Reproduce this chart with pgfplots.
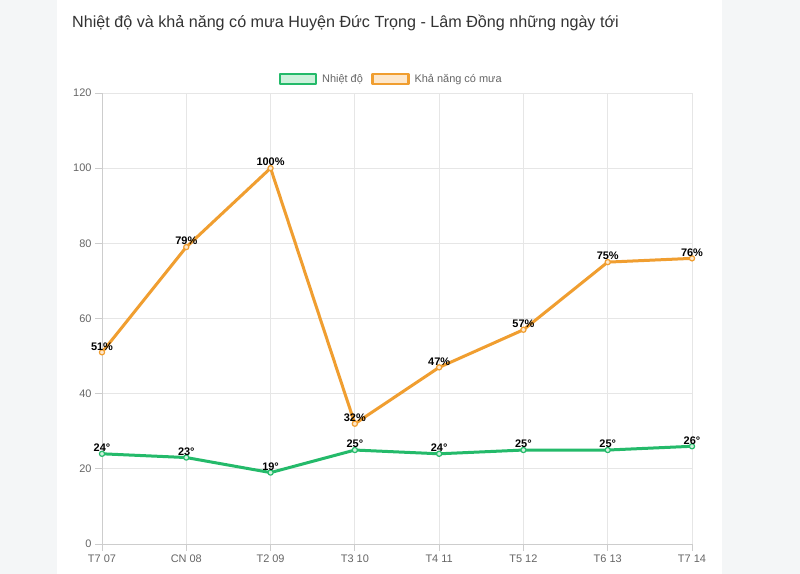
\documentclass[border=0pt]{standalone}
\usepackage{fontspec}
\setmainfont{Liberation Sans}
\usepackage{pgfplots}
\pgfplotsset{compat=1.18}

\definecolor{pagebg}{RGB}{244,246,247}
\definecolor{titlecol}{RGB}{51,51,51}
\definecolor{tickcol}{RGB}{102,102,102}
\definecolor{gridcol}{RGB}{230,230,230}
\definecolor{axiscol}{RGB}{205,205,205}
\definecolor{tempcol}{RGB}{36,186,106}
\definecolor{templight}{RGB}{204,241,219}
\definecolor{raincol}{RGB}{240,158,48}
\definecolor{rainlight}{RGB}{253,231,203}

\begin{document}
\begin{tikzpicture}[x=1bp,y=1bp]
\useasboundingbox (0,0) rectangle (800,574);
\fill[pagebg] (0,0) rectangle (800,574);
\fill[white] (57,0) rectangle (722,574);
\node[anchor=base west, text=titlecol, font=\fontsize{16.2}{19}\selectfont, inner sep=0pt]
  at (72,546) {Nhiệt độ và khả năng có mưa Huyện Đức Trọng - Lâm Đồng những ngày tới};

\begin{axis}[
    at={(102bp,30bp)}, anchor=south west,
    scale only axis, width=590bp, height=451bp,
    xmin=0, xmax=7, ymin=0, ymax=120,
    xtick={0,...,7},
    xticklabels={T7 07, CN 08, T2 09, T3 10, T4 11, T5 12, T6 13, T7 14},
    ytick={0,20,...,120},
    grid=major,
    major grid style={gridcol, line width=0.8bp},
    axis x line*=bottom, axis y line*=left,
    axis line style={axiscol, line width=0.8bp},
    tick align=outside, major tick length=7bp,
    tick style={axiscol, line width=0.8bp},
    ticklabel style={font=\fontsize{11}{13}\selectfont, text=tickcol},
    /pgf/number format/assume math mode=true,
    clip=false,
    legend columns=2,
    legend style={at={(0.49,1)}, anchor=south, yshift=5bp, draw=none,
        font=\fontsize{11}{13}\selectfont, text=tickcol,
        /tikz/every odd column/.append style={column sep=3bp},
        /tikz/every even column/.append style={column sep=6bp}},
    every node near coord/.append style={font=\bfseries\fontsize{11}{13}\selectfont,
        text=black, anchor=south, inner sep=1.5bp},
]
\addplot[tempcol, line width=3bp, line join=round,
    mark=*, mark size=2.6bp, mark options={fill=templight, line width=1.2bp},
    nodes near coords={\pgfmathprintnumber{\pgfplotspointmeta}°},
    legend image code/.code={\draw[draw=tempcol, fill=templight, line width=2.6bp]
        (0bp,-5bp) rectangle (36bp,5bp);}]
  coordinates {(0,24) (1,23) (2,19) (3,25) (4,24) (5,25) (6,25) (7,26)};
\addlegendentry{Nhiệt độ}
\addplot[raincol, line width=3bp, line join=round,
    mark=*, mark size=2.6bp, mark options={fill=rainlight, line width=1.2bp},
    nodes near coords={\pgfmathprintnumber{\pgfplotspointmeta}\%},
    legend image code/.code={\draw[draw=raincol, fill=rainlight, line width=2.6bp]
        (0bp,-5bp) rectangle (36bp,5bp);}]
  coordinates {(0,51) (1,79) (2,100) (3,32) (4,47) (5,57) (6,75) (7,76)};
\addlegendentry{Khả năng có mưa}
\end{axis}
\end{tikzpicture}
\end{document}
